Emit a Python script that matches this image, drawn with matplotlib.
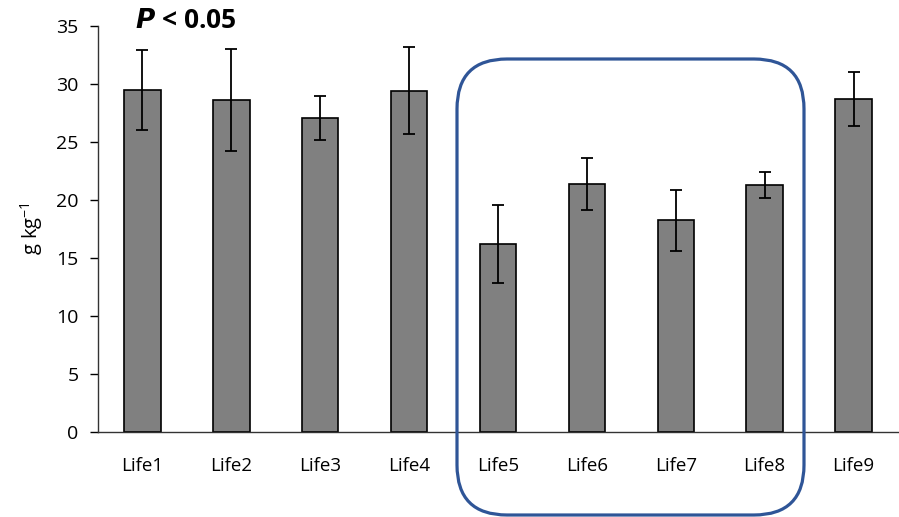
import numpy as np
import matplotlib.pyplot as plt
from matplotlib.patches import FancyBboxPatch

# values
groups = ['Life1', 'Life2', 'Life3', 'Life4', 'Life5', 'Life6', 'Life7', 'Life8', 'Life9']
means = [29.5, 28.6, 27.1, 29.4, 16.2, 21.4, 18.25, 21.3, 28.7]
errs = [3.45, 4.4, 1.9, 3.75, 3.35, 2.25, 2.65, 1.15, 2.3]

plt.rcParams['font.family'] = ['Open Sans', 'DejaVu Sans']
plt.rcParams['mathtext.default'] = 'regular'

fig = plt.figure(figsize=(8.99, 5.17), dpi=100)
ax = fig.add_axes([98 / 899, 1 - 432 / 517, 800 / 899, 406 / 517])

x = np.arange(len(groups))
ax.bar(x, means, width=0.41, color='#808080', edgecolor='black', linewidth=1.2,
       yerr=errs, capsize=4.5, error_kw=dict(elinewidth=1.3, capthick=1.3, ecolor='black'))

ax.set_xlim(-0.5, len(groups) - 0.5)
ax.set_ylim(0, 35)
ax.set_yticks(range(0, 36, 5))
ax.set_xticks(x)
ax.set_xticklabels(groups)
ax.tick_params(axis='x', length=0, pad=18, labelsize=13.5)
ax.tick_params(axis='y', direction='out', length=6, width=1, labelsize=14, pad=8)
for s in ['top', 'right']:
    ax.spines[s].set_visible(False)
for s in ['left', 'bottom']:
    ax.spines[s].set_linewidth(1)
    ax.spines[s].set_color('#333333')

ax.set_ylabel('g kg$^{-1}$', fontsize=14.5, labelpad=8)

fig.text(135 / 899, 1 - 20 / 517, r'$\bfit{P}$ < 0.05', fontsize=19, fontweight='bold',
         va='center', ha='left')

# rounded highlight box around Life5-Life8
box = FancyBboxPatch((4.57, 0.02), 3.47, 4.56, boxstyle='round,pad=0,rounding_size=0.5',
                     transform=fig.dpi_scale_trans, fill=False, edgecolor='#2F5597',
                     linewidth=2.3, clip_on=False)
fig.patches.append(box)

fig.savefig('out.png', dpi=100)
